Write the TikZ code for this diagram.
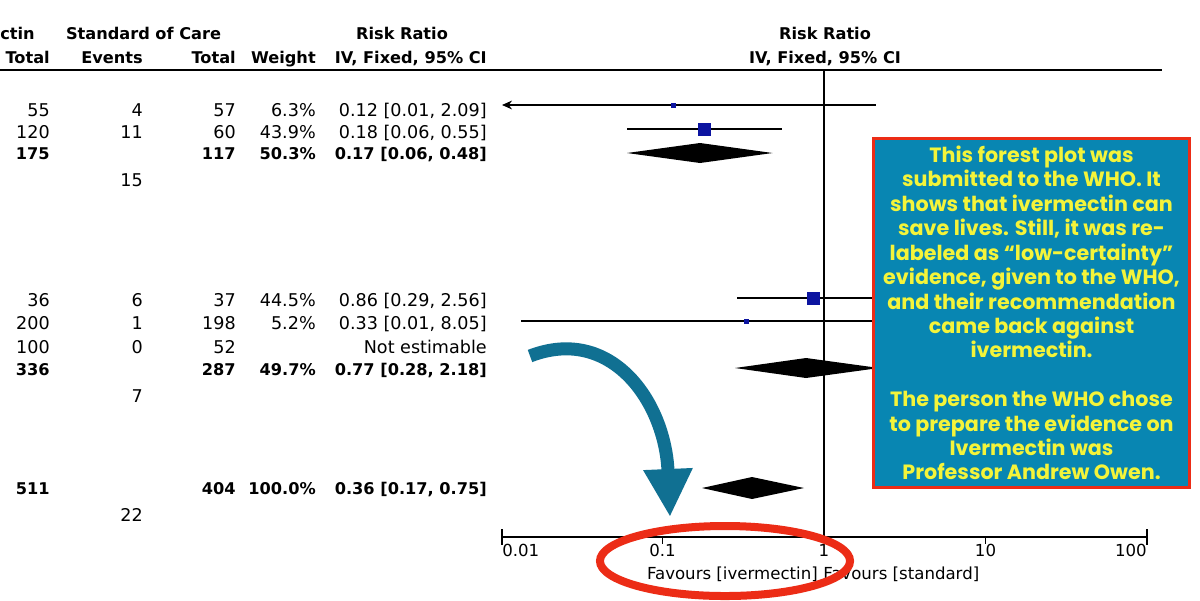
\documentclass[tikz,border=0pt]{standalone}
\usepackage{fontspec}
\setmainfont{DejaVu Sans}
\newfontfamily\notefont{Poppins}
\usetikzlibrary{arrows.meta}

\definecolor{boxteal}{RGB}{8,134,178}
\definecolor{arrowteal}{RGB}{16,112,146}
\definecolor{noteyellow}{RGB}{244,244,58}
\definecolor{ringred}{RGB}{236,44,22}
\definecolor{marknavy}{RGB}{12,20,160}

\begin{document}
\begin{tikzpicture}[x=0.025cm,y=-0.025cm,
  cell/.style={anchor=base east,inner sep=0pt,font=\fontsize{12.5}{15}\selectfont},
  total/.style={anchor=base east,inner sep=0pt,font=\fontsize{11.5}{14}\selectfont\bfseries},
  head/.style={total},
  label/.style={inner sep=0pt,font=\fontsize{11.8}{14}\selectfont},
  ci/.style={line width=0.035cm},
  sq/.style={fill=marknavy},
  notebox/.style={draw=ringred,line width=0.075cm,fill=boxteal,text=noteyellow,
    minimum width=7.9cm,minimum height=8.725cm,inner sep=0pt,align=center,
    font=\notefont\bfseries\fontsize{14.7}{17.36}\selectfont},
  pointer/.style={arrowteal,line width=0.325cm,-{Triangle[length=1.2cm,width=1.15cm]}},
  ring/.style={ringred,line width=0.2cm}]

\useasboundingbox[fill=white] (0,0) rectangle (1200,600);

% headings
\node[head,anchor=base west] (hExp) at (0,39) {ctin};
\node[head,anchor=base] (hSoc) at (143.5,39) {Standard of Care};
\node[head,anchor=base] (hRR) at (402,39) {Risk Ratio};
\node[head] (hTotA) at (50,63) {Total};
\node[head] (hEv) at (143,63) {Events};
\node[head] (hTotB) at (236,63) {Total};
\node[head] (hW) at (316,63) {Weight};
\node[head] (hCI) at (487,63) {IV, Fixed, 95\% CI};
\node[head,anchor=base] (hRRplot) at (825,39) {Risk Ratio};
\node[head,anchor=base] (hCIplot) at (825,63) {IV, Fixed, 95\% CI};

\draw[line width=0.05cm] (0,70) -- (1162,70);

% first group
\node[cell] (a1) at (50,116) {55};
\node[cell] (b1) at (143,116) {4};
\node[cell] (c1) at (236,116) {57};
\node[cell] (d1) at (316,116) {6.3\%};
\node[cell] (e1) at (487,116) {0.12 [0.01, 2.09]};

\node[cell] (a2) at (50,138) {120};
\node[cell] (b2) at (143,138) {11};
\node[cell] (c2) at (236,138) {60};
\node[cell] (d2) at (316,138) {43.9\%};
\node[cell] (e2) at (487,138) {0.18 [0.06, 0.55]};

\node[total] (a3) at (50,159) {175};
\node[total] (c3) at (236,159) {117};
\node[total] (d3) at (316,159) {50.3\%};
\node[total] (e3) at (487,159) {0.17 [0.06, 0.48]};

\node[cell] (b4) at (143,186) {15};

% second group
\node[cell] (a5) at (50,306) {36};
\node[cell] (b5) at (143,306) {6};
\node[cell] (c5) at (236,306) {37};
\node[cell] (d5) at (316,306) {44.5\%};
\node[cell] (e5) at (487,306) {0.86 [0.29, 2.56]};

\node[cell] (a6) at (50,329) {200};
\node[cell] (b6) at (143,329) {1};
\node[cell] (c6) at (236,329) {198};
\node[cell] (d6) at (316,329) {5.2\%};
\node[cell] (e6) at (487,329) {0.33 [0.01, 8.05]};

\node[cell] (a7) at (50,353) {100};
\node[cell] (b7) at (143,353) {0};
\node[cell] (c7) at (236,353) {52};
\node[cell] (e7) at (487,353) {Not estimable};

\node[total] (a8) at (50,375) {336};
\node[total] (c8) at (236,375) {287};
\node[total] (d8) at (316,375) {49.7\%};
\node[total] (e8) at (487,375) {0.77 [0.28, 2.18]};

\node[cell] (b9) at (143,402) {7};

% overall
\node[total] (a10) at (50,494) {511};
\node[total] (c10) at (236,494) {404};
\node[total] (d10) at (316,494) {100.0\%};
\node[total] (e10) at (487,494) {0.36 [0.17, 0.75]};

\node[cell] (b11) at (143,521) {22};

% plot
\draw[ci] (824,70) -- (824,537);
\draw[ci] (502,537) -- (1147,537);
\draw[ci] (502,529) -- (502,545);
\draw[ci] (1147,529) -- (1147,545);
\draw[ci] (662.5,537) -- (662.5,544);
\draw[ci] (985.5,537) -- (985.5,544);

\node[label,anchor=base west] (t001) at (502,556) {0.01};
\node[label,anchor=base] (t01) at (662.5,556) {0.1};
\node[label,anchor=base] (t1) at (824,556) {1};
\node[label,anchor=base] (t10) at (985.5,556) {10};
\node[label,anchor=base east] (t100) at (1147,556) {100};
\node[label,anchor=base east] (favI) at (818,579) {Favours [ivermectin]};
\node[label,anchor=base west] (favS) at (823,579) {Favours [standard]};

\draw[ci,{Stealth[length=0.25cm,width=0.22cm]}-] (502,105) -- (876,105);
\fill[sq] (673,105) +(-2.5,-2.5) rectangle +(2.5,2.5);
\draw[ci] (627,129) -- (782,129);
\fill[sq] (704,129) +(-6.5,-6.5) rectangle +(6.5,6.5);
\fill (627,153) -- (700,143) -- (772.5,153) -- (700,163) -- cycle;

\draw[ci] (737,298) -- (890,298);
\fill[sq] (813,298) +(-6.5,-6.5) rectangle +(6.5,6.5);
\draw[ci] (521,321) -- (970,321);
\fill[sq] (746,321) +(-2.5,-2.5) rectangle +(2.5,2.5);
\fill (735,368) -- (806,358) -- (879,368) -- (806,378) -- cycle;

\fill (702,488) -- (752,477) -- (804,488) -- (752,499) -- cycle;

% note
\node[notebox] (note) at (1031.5,313) {This forest plot was\\
submitted to the WHO. It\\
shows that ivermectin can\\
save lives. Still, it was re-\\
labeled as “low-certainty”\\
evidence, given to the WHO,\\
and their recommendation\\
came back against\\
ivermectin.\\[17.36pt]
The person the WHO chose\\
to prepare the evidence on\\
Ivermectin was\\
Professor Andrew Owen.};

% highlight
\coordinate (arrowTail) at (530,356);
\coordinate (arrowTip) at (670,517);
\draw[pointer] (arrowTail) .. controls (610,325) and (665,400) .. (arrowTip);
\draw[ring] (725,561) ellipse [x radius=3.125cm, y radius=0.875cm];

\end{tikzpicture}
\end{document}
